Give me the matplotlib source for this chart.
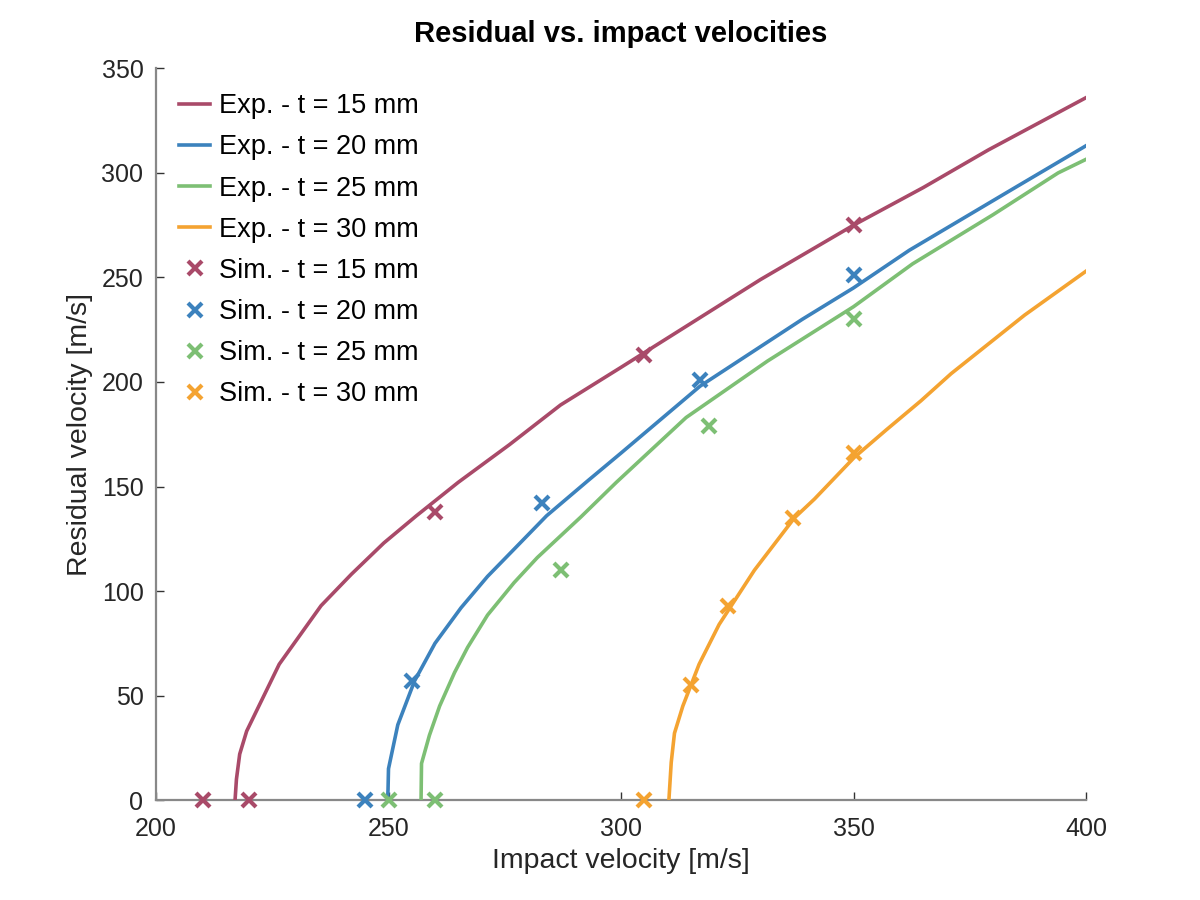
import numpy as np
import matplotlib
matplotlib.use("Agg")
import matplotlib.pyplot as plt

plt.rcParams['font.family'] = ['Liberation Sans', 'DejaVu Sans']

exp15_x = [217, 217.3, 218, 219.5, 223, 226.5, 231, 235.5, 242, 249, 256, 265, 276, 287, 300, 315, 330, 350, 365, 379, 400]
exp15_y = [0, 10, 22, 33, 49, 65, 79, 93, 108, 123, 136, 152, 170, 189, 207, 228, 249, 275, 293, 311, 336]

exp20_x = [249.8, 249.9, 250, 252, 255.6, 260, 265.6, 271.3, 277, 284, 293, 300, 317, 339, 350, 362, 384, 400]
exp20_y = [0, 5, 15, 36, 57, 75, 92, 107, 120, 136, 153, 166, 198, 230, 245, 263, 292, 313]

exp25_x = [257, 257.1, 258.8, 261, 264.2, 267, 271.3, 277, 282, 291.4, 299, 314, 331.5, 350, 362.7, 380, 394, 400]
exp25_y = [0, 17.5, 31, 45, 61, 73, 88.5, 104, 116, 135.5, 152, 183, 210, 236, 256.5, 280, 300, 306.5]

exp30_x = [310.3, 310.8, 311.5, 313.3, 316.8, 321.1, 328.7, 337.3, 341.6, 350.2, 357, 364.5, 371, 386.8, 400]
exp30_y = [0, 18, 32, 45, 65, 84, 110, 135, 144, 164, 177, 191, 204, 232, 253]

# Simulation points
sim15_x = [210, 220, 260, 305, 350]
sim15_y = [0, 0, 138, 213, 275]
sim20_x = [245, 255, 283, 317, 350]
sim20_y = [0, 57, 142, 201, 251]
sim25_x = [250, 260, 287, 319, 350]
sim25_y = [0, 0, 110, 179, 230]
sim30_x = [305, 315, 323, 337, 350]
sim30_y = [0, 55, 93, 135, 166]

colors = ['#A94A69', '#3C82BD', '#7DBF74', '#F4A331']
thick = ['15', '20', '25', '30']

fig = plt.figure(figsize=(12, 9), dpi=100)
ax = fig.add_axes([0.13, 0.111, 0.775, 0.813])

exps = [(exp15_x, exp15_y), (exp20_x, exp20_y), (exp25_x, exp25_y), (exp30_x, exp30_y)]
sims = [(sim15_x, sim15_y), (sim20_x, sim20_y), (sim25_x, sim25_y), (sim30_x, sim30_y)]

for (x, y), c, t in zip(exps, colors, thick):
    ax.plot(x, y, color=c, lw=2.6, label='Exp. - t = %s mm' % t, zorder=3)
for (x, y), c, t in zip(sims, colors, thick):
    ax.plot(x, y, ls='none', marker='x', ms=10.5, mew=3, color=c,
            label='Sim. - t = %s mm' % t, zorder=4, clip_on=False)

ax.set_xlim(200, 400)
ax.set_ylim(0, 350)
ax.set_xticks([200, 250, 300, 350, 400])
ax.set_yticks(np.arange(0, 351, 50))

for s in ['top', 'right']:
    ax.spines[s].set_visible(False)
for s in ['left', 'bottom']:
    ax.spines[s].set_color('#888888')
    ax.spines[s].set_linewidth(1.6)
ax.tick_params(direction='in', length=6, width=1, color='#333333',
               labelsize=18, labelcolor='#262626')
ax.tick_params(axis='x', pad=12)
ax.tick_params(axis='y', pad=9)

ax.set_xlabel('Impact velocity [m/s]', fontsize=20.5, color='#262626', labelpad=5)
ax.set_ylabel('Residual velocity [m/s]', fontsize=20.5, color='#262626', labelpad=6)
ax.set_title('Residual vs. impact velocities', fontsize=21, fontweight='bold', pad=19)

ax.legend(loc='upper left', frameon=False, fontsize=19.5, handlelength=1.15,
          handletextpad=0.3, labelspacing=0.56, borderaxespad=0.0,
          borderpad=0.0, bbox_to_anchor=(0.025, 0.966))

fig.savefig('out.png', dpi=100)
